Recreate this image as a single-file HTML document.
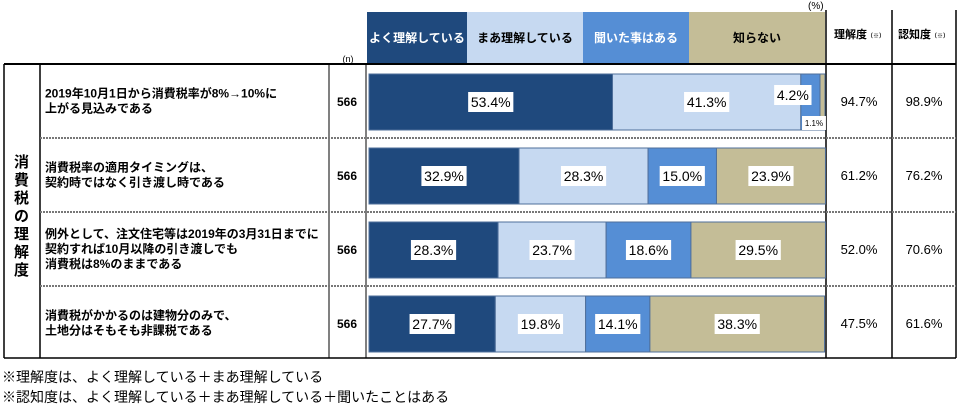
<!DOCTYPE html>
<html><head><meta charset="utf-8"><style>
body{margin:0;background:#fff;}
svg text{font-family:"Liberation Sans","Noto Sans CJK JP",sans-serif;}
</style></head><body>
<svg id="c" width="960" height="410" viewBox="0 0 960 410" xmlns="http://www.w3.org/2000/svg">
<g id="grid">
<line x1="4" y1="64" x2="956" y2="64" stroke="#000" stroke-width="2"/>
<line x1="4" y1="358" x2="956" y2="358" stroke="#000" stroke-width="1.5"/>
<line x1="4" y1="64" x2="4" y2="358" stroke="#000" stroke-width="1.5"/>
<line x1="40" y1="64" x2="40" y2="358" stroke="#000" stroke-width="1.5"/>
<line x1="329" y1="64" x2="329" y2="358" stroke="#000" stroke-width="1"/>
<line x1="366" y1="64" x2="366" y2="358" stroke="#000" stroke-width="1"/>
<line x1="826" y1="10" x2="826" y2="358" stroke="#000" stroke-width="1.5"/>
<line x1="892" y1="10" x2="892" y2="358" stroke="#000" stroke-width="1.5"/>
<line x1="956" y1="10" x2="956" y2="358" stroke="#000" stroke-width="1.5"/>
<line x1="40" y1="138" x2="956" y2="138" stroke="#777" stroke-width="2" stroke-dasharray="2,1"/>
<line x1="40" y1="212" x2="956" y2="212" stroke="#777" stroke-width="2" stroke-dasharray="2,1"/>
<line x1="40" y1="286" x2="956" y2="286" stroke="#777" stroke-width="2" stroke-dasharray="2,1"/>
</g>
<g>
<rect x="367" y="12" width="100" height="51" fill="#1f497d"/>
<text x="417" y="42" text-anchor="middle" font-size="12" font-weight="bold" fill="#fff">よく理解している</text>
<rect x="467" y="12" width="116" height="51" fill="#c6d9f1"/>
<text x="525" y="42" text-anchor="middle" font-size="12" font-weight="bold" fill="#000">まあ理解している</text>
<rect x="583" y="12" width="106" height="51" fill="#558ed5"/>
<text x="636" y="42" text-anchor="middle" font-size="12" font-weight="bold" fill="#fff">聞いた事はある</text>
<rect x="689" y="12" width="136" height="51" fill="#c4bd97"/>
<text x="757" y="42" text-anchor="middle" font-size="12" font-weight="bold" fill="#000">知らない</text>
<text x="808" y="9" font-size="10">(%)</text>
<text x="348" y="62" text-anchor="middle" font-size="9">(n)</text>
<text x="834" y="38" font-size="11" font-weight="bold">理解度<tspan font-size="6">（※）</tspan></text>
<text x="898" y="38" font-size="11" font-weight="bold">認知度<tspan font-size="6">（※）</tspan></text>
</g>
<text font-size="15" font-weight="bold">
<tspan x="14" y="167">消</tspan><tspan x="14" y="185">費</tspan><tspan x="14" y="203">税</tspan><tspan x="14" y="221">の</tspan><tspan x="14" y="239">理</tspan><tspan x="14" y="257">解</tspan><tspan x="14" y="275">度</tspan></text>
<g id="rows"></g>
<g id="bars"></g>
<text x="2" y="382" font-size="14">※理解度は、よく理解している＋まあ理解している</text>
<text x="2" y="402" font-size="14">※認知度は、よく理解している＋まあ理解している＋聞いたことはある</text>
</svg>
<script>
const questions=[["2019年10月1日から消費税率が8%→10%に","上がる見込みである"],["消費税率の適用タイミングは、","契約時ではなく引き渡し時である"],["例外として、注文住宅等は2019年の3月31日までに","契約すれば10月以降の引き渡しでも","消費税は8%のままである"],["消費税がかかるのは建物分のみで、","土地分はそもそも非課税である"]];
const nValues=[566,566,566,566];
const wellUnderstand=[53.4,32.9,28.3,27.7];
const somewhatUnderstand=[41.3,28.3,23.7,19.8];
const heard=[4.2,15.0,18.6,14.1];
const unknown=[1.1,23.9,29.5,38.3];
const understanding=[94.7,61.2,52.0,47.5];
const awareness=[98.9,76.2,70.6,61.6];
const NS="http://www.w3.org/2000/svg";
const x0=369,x1=825;
const xs=v=>x0+(x1-x0)*v/100;
const rowTop=i=>64+i*74;
function mk(tag,attrs,parent,txt){const e=document.createElementNS(NS,tag);for(const k in attrs)e.setAttribute(k,attrs[k]);if(txt!=null)e.textContent=txt;parent.appendChild(e);return e;}
const rows=document.getElementById('rows'),bars=document.getElementById('bars');
const series=[wellUnderstand,somewhatUnderstand,heard,unknown];
const colors=["#1f497d","#c6d9f1","#558ed5","#c4bd97"];
questions.forEach((q,i)=>{
 const top=rowTop(i),mid=top+37;
 const t=mk('text',{'font-size':12,'font-weight':'bold'},rows);
 
 
 const lh=15,start=mid-(q.length-1)*lh/2+4;
 q.forEach((l,j)=>{mk('tspan',{x:45,y:start+j*lh},t,l);});
 const n=mk('text',{x:347,y:mid+5,'text-anchor':'middle','font-size':12,'font-weight':'bold'},rows,nValues[i]);
 
 
 const u=mk('text',{x:859,y:mid+5,'text-anchor':'middle','font-size':13},rows,understanding[i].toFixed(1)+'%');
 
 
 const a=mk('text',{x:924,y:mid+5,'text-anchor':'middle','font-size':13},rows,awareness[i].toFixed(1)+'%');
 
 
 let cum=0;const by=top+10,bh=56;
 series.forEach((s,k)=>{
  const v=s[i],xa=xs(cum),xb=xs(cum+v);cum+=v;
  const r=mk('rect',{x:xa,y:by,width:xb-xa,height:bh,fill:colors[k],stroke:'#4f6f9a','stroke-width':1},bars);
  
  
  const label=v.toFixed(1)+'%';
  let cx=(xa+xb)/2,cy=by+bh/2,fs=14;
  if(v<3){cx=xa-6;cy=by+bh-7;fs=8;}
  else if(v<8){cx=xa-8;cy=by+bh/2-7;}
  const w=label.length*fs*0.56+6,h=fs+6;
  const bg=mk('rect',{x:cx-w/2,y:cy-h/2,width:w,height:h,fill:'#fff'},bars);
  
  
  const tl=mk('text',{x:cx,y:cy+fs*0.36,'text-anchor':'middle','font-size':fs},bars,label);
  
  
 });
});
</script>
</body></html>
